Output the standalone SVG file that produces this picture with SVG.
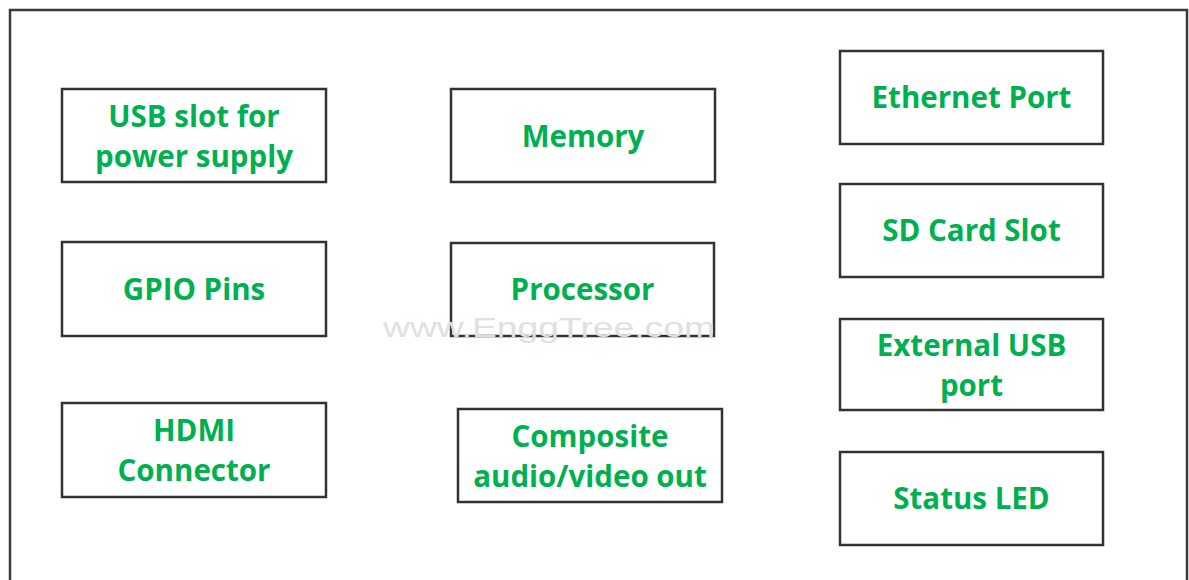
<svg xmlns="http://www.w3.org/2000/svg" width="1189" height="580" viewBox="0 0 1189 580">
<style>
.frame{fill:none;stroke:#3a3a3a;stroke-width:2.5}
.box{fill:#fff;stroke:#333;stroke-width:2.5}
.lbl{font-family:"Open Sans","Noto Sans",sans-serif;font-weight:bold;font-size:29.5px;fill:#00b050;text-anchor:middle}
.wm{font-family:"Liberation Sans",Arial,sans-serif;font-size:27px;fill:#e0e0e0}
</style>
<rect width="1189" height="580" fill="#fff"/>
<rect class="frame" x="10" y="10" width="1177" height="600"/>
<g id="connectors"></g>
<g id="usb-power"><rect class="box" x="62" y="89" width="264" height="93"/><text class="lbl" x="194" y="127">USB slot for</text><text class="lbl" x="194" y="167">power supply</text></g>
<g id="memory"><rect class="box" x="451" y="89" width="264" height="93"/><text class="lbl" x="583" y="147">Memory</text></g>
<g id="ethernet"><rect class="box" x="840" y="51" width="263" height="93"/><text class="lbl" x="971.5" y="108">Ethernet Port</text></g>
<g id="sdcard"><rect class="box" x="840" y="184" width="263" height="93"/><text class="lbl" x="971.5" y="241">SD Card Slot</text></g>
<g id="gpio"><rect class="box" x="62" y="242" width="264" height="94"/><text class="lbl" x="194" y="300">GPIO Pins</text></g>
<g id="processor"><rect class="box" x="451" y="243" width="263" height="93"/><text class="lbl" x="582.5" y="300">Processor</text></g>
<g id="ext-usb"><rect class="box" x="840" y="319" width="263" height="91"/><text class="lbl" x="971.5" y="356">External USB</text><text class="lbl" x="971.5" y="396">port</text></g>
<g id="hdmi"><rect class="box" x="62" y="403" width="264" height="94"/><text class="lbl" x="194" y="441">HDMI</text><text class="lbl" x="194" y="481">Connector</text></g>
<g id="composite"><rect class="box" x="458" y="409" width="264" height="93"/><text class="lbl" x="590" y="447">Composite</text><text class="lbl" x="590" y="487">audio/video out</text></g>
<g id="status-led"><rect class="box" x="840" y="452" width="263" height="93"/><text class="lbl" x="971.5" y="509">Status LED</text></g>
<text class="wm" x="383" y="337" textLength="332" lengthAdjust="spacingAndGlyphs">www.EnggTree.com</text>
</svg>
